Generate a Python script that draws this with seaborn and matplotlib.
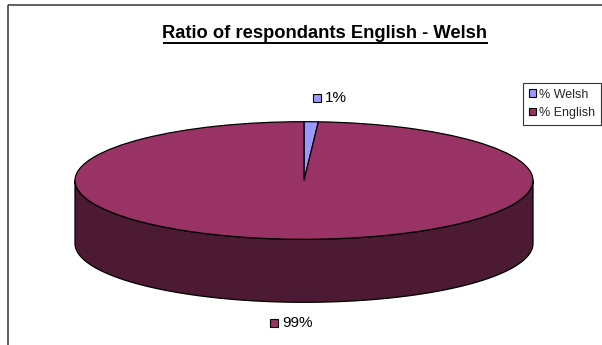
import numpy as np
import matplotlib
matplotlib.use("Agg")
import matplotlib.pyplot as plt
from matplotlib.patches import Polygon, Rectangle
import seaborn as sns

# Survey shares
groups = ["% Welsh", "% English"]
shares = [1, 99]
title = "Ratio of respondants English - Welsh"

sns.set_theme(style="white")
plt.rcParams["font.family"] = ["Liberation Sans", "DejaVu Sans"]

top_colors = sns.color_palette(["#9999FF", "#993366"])
side_colors = sns.color_palette(["#4D4D80", "#4D1A33"])

W, H = 602, 345
fig = plt.figure(figsize=(W / 100, H / 100), dpi=100)

# Pie axes: unit circle is stretched into the tilted ellipse of the 3-D disc
cx, cy, rx, ry, depth_px = 304, 180.5, 229, 58.8, 63.0
ax = fig.add_axes([0, 0, 1, 1])
wedges, _ = ax.pie(
    shares, colors=top_colors, startangle=90, counterclock=False,
    radius=1, center=(0, 0),
    wedgeprops=dict(edgecolor="black", linewidth=0.9, zorder=2),
)
ax.set_aspect("auto")
ax.set_xlim(-cx / rx, (W - cx) / rx)
ax.set_ylim((cy - H) / ry, cy / ry)
ax.axis("off")

# Side walls of the disc: only the front half (180..360 deg) is visible
depth = depth_px / ry
for w, sc in zip(wedges, side_colors):
    a, b = w.theta1, w.theta2
    for k in range(-2, 2):
        lo, hi = max(a, 180 + 360 * k), min(b, 360 + 360 * k)
        if hi <= lo:
            continue
        t = np.radians(np.linspace(lo, hi, 200))
        top = np.column_stack([np.cos(t), np.sin(t)])
        bot = np.column_stack([np.cos(t), np.sin(t) - depth])[::-1]
        ax.add_patch(Polygon(np.vstack([top, bot]), closed=True,
                             facecolor=sc, edgecolor="black",
                             linewidth=0.9, zorder=1))

# Overlay in pixel coordinates for text, labels, legend and frame
ov = fig.add_axes([0, 0, 1, 1], zorder=3)
ov.set_xlim(0, W)
ov.set_ylim(H, 0)
ov.axis("off")
ov.patch.set_alpha(0)

ov.add_patch(Rectangle((7.5, 4.5), 700, 400, fill=False,
                       edgecolor="#333333", linewidth=1.1, clip_on=False))

t = ov.text(325, 37.5, title, ha="center", va="baseline",
            fontsize=13.2, fontweight="bold", color="black")

# Data labels
label_pos = [(313, 98), (270, 323)]
for (lx, ly), v, c in zip(label_pos, shares, top_colors):
    ov.add_patch(Rectangle((lx, ly - 4), 8, 8, facecolor=c,
                           edgecolor="black", linewidth=0.8))
    ov.text(lx + 12, ly, f"{v:.0f}%", ha="left", va="center",
            fontsize=11, color="black")

# Legend
handles = [Rectangle((0, 0), 1, 1, facecolor=c, edgecolor="black",
                     linewidth=0.8) for c in top_colors]
leg = ov.legend(handles, groups, loc="upper left",
                bbox_to_anchor=(523, 83), bbox_transform=ov.transData,
                fontsize=9, handlelength=0.6, handleheight=0.6,
                handletextpad=0.25, borderpad=0.45, labelspacing=0.5,
                borderaxespad=0, frameon=True, fancybox=False)
leg.get_frame().set_edgecolor("black")
leg.get_frame().set_linewidth(0.8)

# Underline the title
fig.canvas.draw()
bb = t.get_window_extent()
ov.plot([bb.x0, bb.x1], [42.5, 42.5], color="black", linewidth=1.4,
        solid_capstyle="butt")

fig.savefig("out.png", dpi=100)
